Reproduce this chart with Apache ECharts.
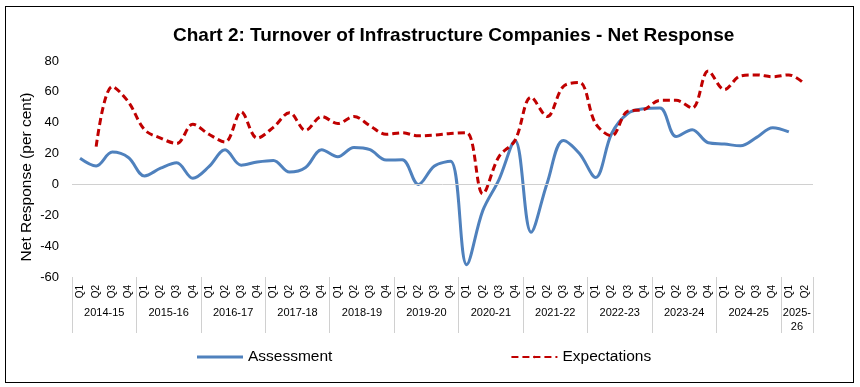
<!DOCTYPE html>
<html>
<head>
<meta charset="utf-8">
<script src="https://cdn.jsdelivr.net/npm/echarts@6/dist/echarts.min.js"></script>
<style>
html,body{margin:0;padding:0;background:#fff;}
#wrap{position:relative;width:860px;height:387px;}
#frame{position:absolute;left:5px;top:6px;width:849px;height:377px;border:1.5px solid #000;box-sizing:border-box;pointer-events:none;z-index:2;}
#chart{position:absolute;left:0;top:0;width:860px;height:387px;}
</style>
</head>
<body>
<div id="wrap"><div id="chart"></div><div id="frame"></div></div>
<script>
const years = ['2014-15','2015-16','2016-17','2017-18','2018-19','2019-20','2020-21','2021-22','2022-23','2023-24','2024-25','2025-\n26'];
const quartersPerYear = [4,4,4,4,4,4,4,4,4,4,4,2];
const quarterLabels = ['Q1','Q2','Q3','Q4'];
const assessment = [17,12,21,17.5,5.5,10.5,14,4,11.5,22.5,12.5,14.5,15.5,8,11,22.5,18,24,22.5,15.8,16,0,12,15,-52,-17,3,28.5,-31,1,28.5,20,4.5,33,46,49,49.5,31,35.5,27,26.2,25,30.5,36.8,34];
const expectations = [null,24.5,63.5,53.5,35.5,30,26.5,39,32.5,27.5,47,30,37,46.5,35,44,39.5,44,38,32.5,33.5,31.5,32,33,33.5,-6,18,28.5,56.5,44,63.5,66,39.5,31.5,47.5,48.5,54.5,54.5,49.5,73.5,61.5,70.3,71,69.8,71,65];

// build category arrays
const quarterCats = [];
const boundaryCats = [];
const boundaryTicks = new Set();
let pos = 0;
years.forEach((y, k) => {
  const n = quartersPerYear[k];
  for (let q = 0; q < n; q++) quarterCats.push(quarterLabels[q]);
  boundaryTicks.add(pos);
  pos += n;
});
boundaryTicks.add(pos);
const yearCenters = {};
pos = 0;
years.forEach((y, k) => { yearCenters[pos + quartersPerYear[k] / 2] = y; pos += quartersPerYear[k]; });
for (let i = 0; i <= quarterCats.length; i++) boundaryCats.push(yearCenters[i] || '');

const chart = echarts.init(document.getElementById('chart'), null, {renderer: 'canvas'});
const font = 'Liberation Sans, Arial, sans-serif';
chart.setOption({
  animation: false,
  textStyle: {fontFamily: font},
  title: {
    text: 'Chart 2: Turnover of Infrastructure Companies - Net Response',
    left: 168, top: 21,
    textStyle: {fontFamily: font, fontWeight: 'bold', fontSize: 19, color: '#000'}
  },
  legend: {
    bottom: 17, left: 192,
    itemWidth: 46, itemHeight: 3, itemGap: 178,
    textStyle: {fontFamily: font, fontSize: 15.5, color: '#000'},
    data: [
      {name: 'Assessment', icon: 'rect'},
      {name: 'Expectations'}
    ]
  },
  grid: {left: 72, right: 47, top: 61, bottom: 110},
  xAxis: [
    {
      type: 'category', data: quarterCats, boundaryGap: true,
      axisLine: {show: false}, axisTick: {show: false},
      axisLabel: {rotate: 90, interval: 0, fontSize: 10, color: '#000', margin: 8, fontFamily: font}
    },
    {
      type: 'category', data: boundaryCats, boundaryGap: false, position: 'bottom',
      axisLine: {show: false},
      axisTick: {show: true, length: 56, interval: (i) => boundaryTicks.has(i), lineStyle: {color: '#d0d0d0', width: 1}},
      axisLabel: {interval: 0, fontSize: 11, color: '#000', margin: 29, lineHeight: 14, fontFamily: font, verticalAlign: 'top'}
    }
  ],
  yAxis: {
    type: 'value', min: -60, max: 80, interval: 20,
    name: 'Net Response (per cent)', nameLocation: 'middle', nameGap: 37, nameMoveOverlap: false,
    nameTextStyle: {fontSize: 15.5, color: '#000', fontFamily: font, padding: [0, 16, 0, 0]},
    axisLine: {show: false}, axisTick: {show: false}, splitLine: {show: false},
    axisLabel: {fontSize: 13, color: '#000', margin: 13, fontFamily: font}
  },
  series: [
    {
      name: 'Assessment', type: 'line', xAxisIndex: 0, data: assessment,
      smooth: 0.35, symbol: 'none',
      lineStyle: {color: '#4F81BD', width: 3},
      itemStyle: {color: '#4F81BD'},
      markLine: {silent: true, symbol: 'none', label: {show: false},
        lineStyle: {color: '#d0d0d0', width: 1, type: 'solid'}, data: [{yAxis: 0}]}
    },
    {
      name: 'Expectations', type: 'line', xAxisIndex: 0, data: expectations,
      smooth: 0.35, symbol: 'none', connectNulls: false,
      lineStyle: {color: '#C00000', width: 3, type: [7, 4]},
      itemStyle: {color: '#C00000'}
    }
  ]
});
</script>
</body>
</html>
